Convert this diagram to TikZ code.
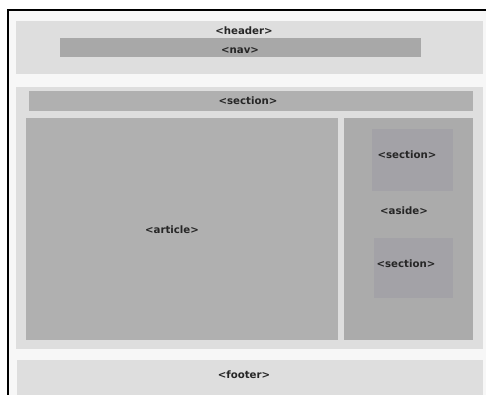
\documentclass[tikz,border=0pt]{standalone}
\usepackage{fontspec}
\setmainfont{DejaVu Sans}
\definecolor{pagebg}{HTML}{F7F7F7}
\definecolor{outergray}{HTML}{DEDEDE}
\definecolor{bargray}{HTML}{A8A8A8}
\definecolor{blockgray}{HTML}{B0B0B0}
\definecolor{innergray}{HTML}{A3A2A7}
\begin{document}
\begin{tikzpicture}[
    x=1pt, y=-1pt,
    pane/.style={fill=outergray, inner sep=0pt, anchor=north west},
    bar/.style={fill=bargray, inner sep=0pt, anchor=north west},
    block/.style={fill=blockgray, inner sep=0pt, anchor=north west},
    inner/.style={fill=innergray, inner sep=0pt, anchor=north west},
    tag/.style={font=\fontsize{10.2}{12}\selectfont\bfseries, text=black!85, inner sep=0pt}
]
\useasboundingbox (0,0) rectangle (486,395);
\fill[pagebg] (8,10) rectangle (486,395);
\draw[line width=2.5pt] (8,395) -- (8,10) -- (486,10);

\node[pane, minimum width=467pt, minimum height=53pt] (header) at (16,21) {};
\node[bar, minimum width=361pt, minimum height=19pt]  (nav)    at (60,38) {};
\node[pane, minimum width=467pt, minimum height=262pt] (main)  at (16,87) {};
\node[block, minimum width=444pt, minimum height=20pt] (secbar) at (29,91) {};
\node[block, minimum width=312pt, minimum height=222pt] (article) at (26,118) {};
\node[block, fill=blockgray!97!black, minimum width=129pt, minimum height=222pt] (aside) at (344,118) {};
\node[inner, minimum width=81pt, minimum height=62pt] (sectop) at (372,129) {};
\node[inner, minimum width=79pt, minimum height=60pt] (secbot) at (374,238) {};
\node[pane, minimum width=466pt, minimum height=35pt] (footer) at (17,360) {};

\node[tag] (headertxt)  at (244,31)    {<header>};
\node[tag] (navtxt)     at (240,51)    {<nav>};
\node[tag] (secbartxt)  at (248,100.5) {<section>};
\node[tag] (articletxt) at (172,230)   {<article>};
\node[tag] (sectoptxt)  at (407,155)   {<section>};
\node[tag] (asidetxt)   at (404,211)   {<aside>};
\node[tag] (secbottxt)  at (406,264)   {<section>};
\node[tag] (footertxt)  at (244,375)   {<footer>};
\end{tikzpicture}
\end{document}
